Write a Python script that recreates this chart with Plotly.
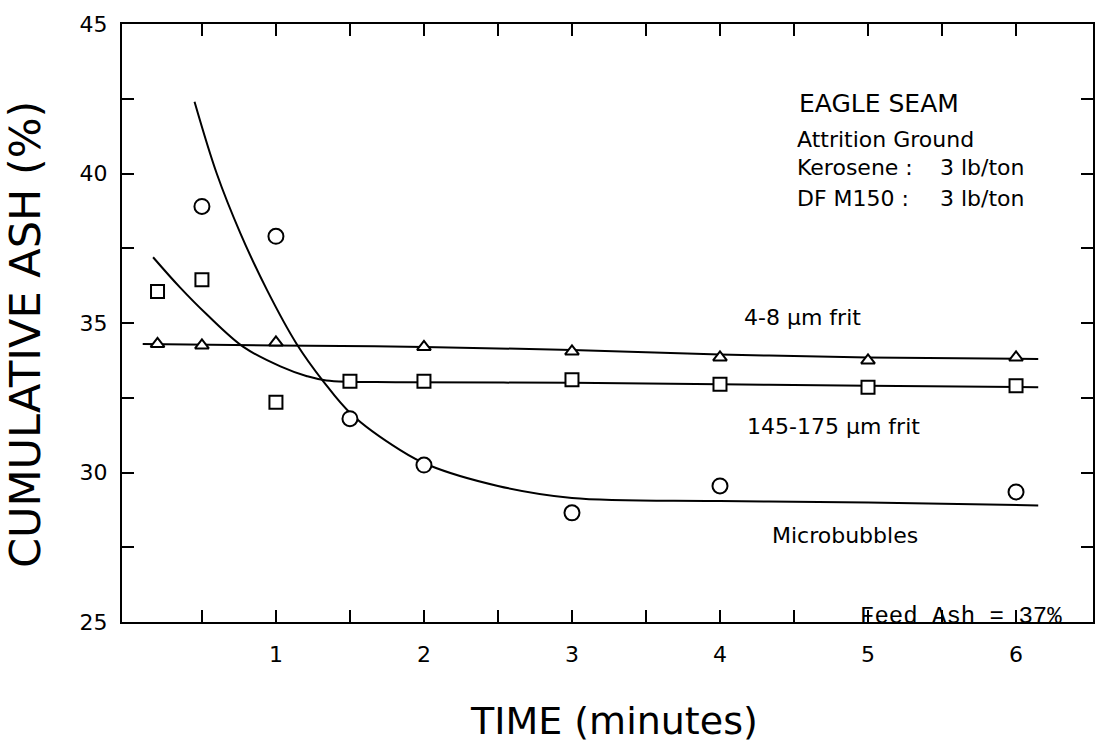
# Cumulative ash vs flotation time - Eagle seam, attrition ground
import plotly.graph_objects as go

# --- measured points ---
t_micro = [0.5, 1.0, 1.5, 2.0, 3.0, 4.0, 6.0]
ash_micro = [38.9, 37.9, 31.8, 30.25, 28.65, 29.55, 29.35]

t_coarse = [0.2, 0.5, 1.0, 1.5, 2.0, 3.0, 4.0, 5.0, 6.0]
ash_coarse = [36.05, 36.45, 32.35, 33.05, 33.05, 33.1, 32.95, 32.85, 32.9]

t_fine = [0.2, 0.5, 1.0, 2.0, 3.0, 4.0, 5.0, 6.0]
ash_fine = [34.3, 34.25, 34.35, 34.2, 34.05, 33.85, 33.75, 33.85]

# --- hand-drawn fit curves ---
t_micro_fit = [0.45, 0.6, 0.76, 0.94, 1.14, 1.32, 1.51, 1.84, 2.03, 2.5, 3.0, 4.0, 5.0, 6.15]
ash_micro_fit = [42.4, 40.0, 38.0, 36.1, 34.3, 33.05, 31.95, 30.75, 30.25, 29.55, 29.15, 29.05, 29.0, 28.9]

t_coarse_fit = [0.17, 0.35, 0.53, 0.78, 1.03, 1.21, 1.34, 1.84, 3.0, 4.0, 5.0, 6.15]
ash_coarse_fit = [37.2, 36.2, 35.3, 34.2, 33.55, 33.22, 33.08, 33.02, 33.0, 32.95, 32.9, 32.85]

t_fine_fit = [0.1, 1.0, 2.0, 3.0, 4.0, 5.0, 6.15]
ash_fine_fit = [34.3, 34.25, 34.2, 34.1, 33.95, 33.85, 33.8]

x_ticks = [0.5, 1, 1.5, 2, 2.5, 3, 3.5, 4, 4.5, 5, 5.5, 6]
x_labels = ["", "1", "", "2", "", "3", "", "4", "", "5", "", "6"]
y_ticks = [25, 27.5, 30, 32.5, 35, 37.5, 40, 42.5, 45]
y_labels = ["25", "", "30", "", "35", "", "40", "", "45"]

fig = go.Figure()

line_style = dict(color="black", width=2, shape="spline", smoothing=1.0)
fig.add_trace(go.Scatter(x=t_micro_fit, y=ash_micro_fit, mode="lines", line=line_style))
fig.add_trace(go.Scatter(x=t_coarse_fit, y=ash_coarse_fit, mode="lines", line=line_style))
fig.add_trace(go.Scatter(x=t_fine_fit, y=ash_fine_fit, mode="lines", line=line_style))

def pts(x, y, symbol, size):
    return go.Scatter(
        x=x, y=y, mode="markers",
        marker=dict(symbol=symbol, size=size, color="white",
                    line=dict(color="black", width=2)),
    )

fig.add_trace(pts(t_micro, ash_micro, "circle", 15))
fig.add_trace(pts(t_coarse, ash_coarse, "square", 13))
fig.add_trace(pts(t_fine, ash_fine, "triangle-up", 12))

txt = dict(family="DejaVu Sans", color="black")
notes = [
    (4.52, 42.35, "EAGLE SEAM", 25),
    (4.51, 41.15, "Attrition Ground", 22),
    (4.51, 40.2, "Kerosene :", 22),
    (5.47, 40.2, "3 lb/ton", 22),
    (4.51, 39.15, "DF M150 :", 22),
    (5.47, 39.15, "3 lb/ton", 22),
    (4.15, 35.2, "4-8 μm frit", 22),
    (4.17, 31.55, "145-175 μm frit", 22),
    (4.34, 27.9, "Microbubbles", 22),
]
for x, y, s, sz in notes:
    fig.add_annotation(x=x, y=y, text=s, showarrow=False, xanchor="left",
                       yanchor="middle", font=dict(txt, size=sz))

fig.add_annotation(x=4.93, y=25.2, text="Feed Ash = 37%", showarrow=False,
                   xanchor="left", yanchor="middle",
                   font=dict(family="Liberation Mono", size=24, color="black"))

# axis titles as paper annotations so they sit where the original puts them
fig.add_annotation(x=0.507, xref="paper", y=-0.125, yref="paper", text="TIME (minutes)",
                   showarrow=False, xanchor="center", yanchor="top",
                   font=dict(family="DejaVu Sans", size=38, color="black"))
fig.add_annotation(x=-0.072, xref="paper", y=0.48, yref="paper", text="CUMULATIVE ASH (%)",
                   showarrow=False, textangle=-90, xanchor="right", yanchor="middle",
                   font=dict(family="DejaVu Sans", size=43, color="black"))

axis_common = dict(
    showline=True, linecolor="black", linewidth=2, mirror="ticks",
    ticks="inside", ticklen=12, tickwidth=2, tickcolor="black",
    showgrid=False, zeroline=False,
    tickfont=dict(family="DejaVu Sans", size=22, color="black"),
)

fig.update_xaxes(range=[-0.04, 6.52], tickmode="array", tickvals=x_ticks,
                 ticktext=x_labels, ticklabelstandoff=12, **axis_common)
fig.update_yaxes(range=[25, 45], tickmode="array", tickvals=y_ticks,
                 ticktext=y_labels, ticklabelstandoff=8, **axis_common)

fig.update_layout(
    width=1114, height=744,
    margin=dict(l=122, r=21, t=18, b=122),
    plot_bgcolor="white", paper_bgcolor="white",
    showlegend=False,
)

# pin the graph to the top-left corner of the page
pin = ("document.body.style.margin='0';"
       "var d=document.getElementById('{plot_id}');"
       "d.style.position='absolute';d.style.left='0px';d.style.top='0px';")
fig.write_html("out.html", post_script=pin, config={"displayModeBar": False})
